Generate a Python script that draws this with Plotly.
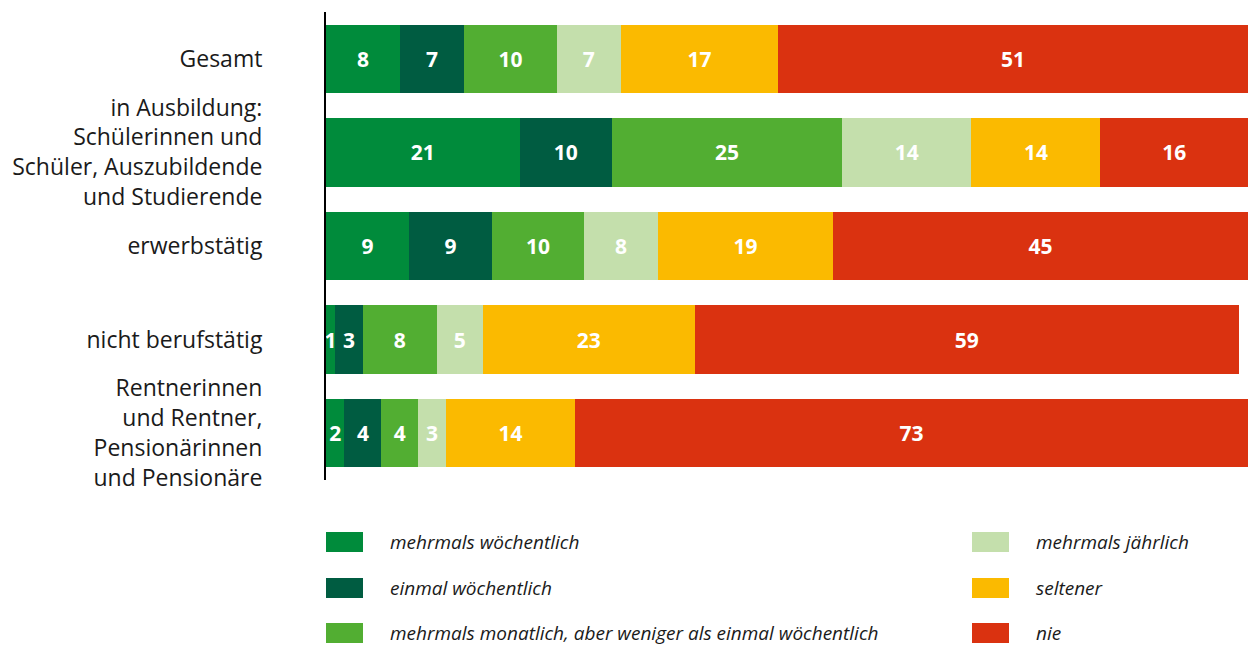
import plotly.graph_objects as go

categories = [
    "Gesamt",
    "in Ausbildung:<br>Schülerinnen und<br>Schüler, Auszubildende<br>und Studierende",
    "erwerbstätig",
    "nicht berufstätig",
    "Rentnerinnen<br>und Rentner,<br>Pensionärinnen<br>und Pensionäre",
]
series_names = [
    "mehrmals wöchentlich",
    "einmal wöchentlich",
    "mehrmals monatlich, aber weniger als einmal wöchentlich",
    "mehrmals jährlich",
    "seltener",
    "nie",
]
mehrmals_woechentlich = [8, 21, 9, 1, 2]
einmal_woechentlich = [7, 10, 9, 3, 4]
mehrmals_monatlich = [10, 25, 10, 8, 4]
mehrmals_jaehrlich = [7, 14, 8, 5, 3]
seltener = [17, 14, 19, 23, 14]
nie = [51, 16, 45, 59, 73]
values = [mehrmals_woechentlich, einmal_woechentlich, mehrmals_monatlich,
          mehrmals_jaehrlich, seltener, nie]
colors = ["#008B3B", "#005C41", "#52AE32", "#C4DFAC", "#FBBA00", "#DA3210"]

W, H = 1252, 647
ML, MR, MT, MB = 326, 4, 12, 167
PW, PH = W - ML - MR, H - MT - MB

def px_x(x):
    return (x - ML) / PW

def px_y(y):
    return (H - MB - y) / PH

FONT = "Open Sans"
fig = go.Figure()
for name, vals, col in zip(series_names, values, colors):
    fig.add_trace(go.Bar(
        y=categories, x=vals, name=name, orientation="h",
        marker=dict(color=col, line=dict(width=0)),
        text=vals, texttemplate="%{x}", textposition="inside",
        insidetextanchor="middle", constraintext="none",
        textfont=dict(family=FONT, size=21, color="white", weight="bold"),
        showlegend=False,
    ))

# manual legend (two columns)
legend_pos = [(326, 542), (326, 588), (326, 633), (972, 542), (972, 588), (972, 633)]
for (lx, ly), name, col in zip(legend_pos, series_names, colors):
    fig.add_shape(type="rect", xref="paper", yref="paper",
                  x0=px_x(lx), x1=px_x(lx + 37), y0=px_y(ly - 10), y1=px_y(ly + 10),
                  fillcolor=col, line=dict(width=0))
    fig.add_annotation(xref="paper", yref="paper", x=px_x(lx + 62), y=px_y(ly),
                       text="<i>" + name + "</i>", showarrow=False,
                       xanchor="left", yanchor="middle",
                       font=dict(family=FONT, size=19, color="#1a1a1a"))

fig.update_layout(
    width=W, height=H, barmode="stack", bargap=0.27,
    margin=dict(l=ML, r=MR, t=MT, b=MB),
    plot_bgcolor="white", paper_bgcolor="white",
    uniformtext=dict(minsize=21, mode="show"),
    font=dict(family=FONT, color="#1a1a1a"),
)
fig.update_xaxes(range=[0, 100], visible=False, showgrid=False, zeroline=False)
fig.update_yaxes(autorange="reversed", showline=True, linecolor="black", linewidth=2,
                 showgrid=False, ticks="", ticklabelstandoff=57,
                 tickfont=dict(family=FONT, size=23, color="#1a1a1a"))

fig.write_html("out.html")
